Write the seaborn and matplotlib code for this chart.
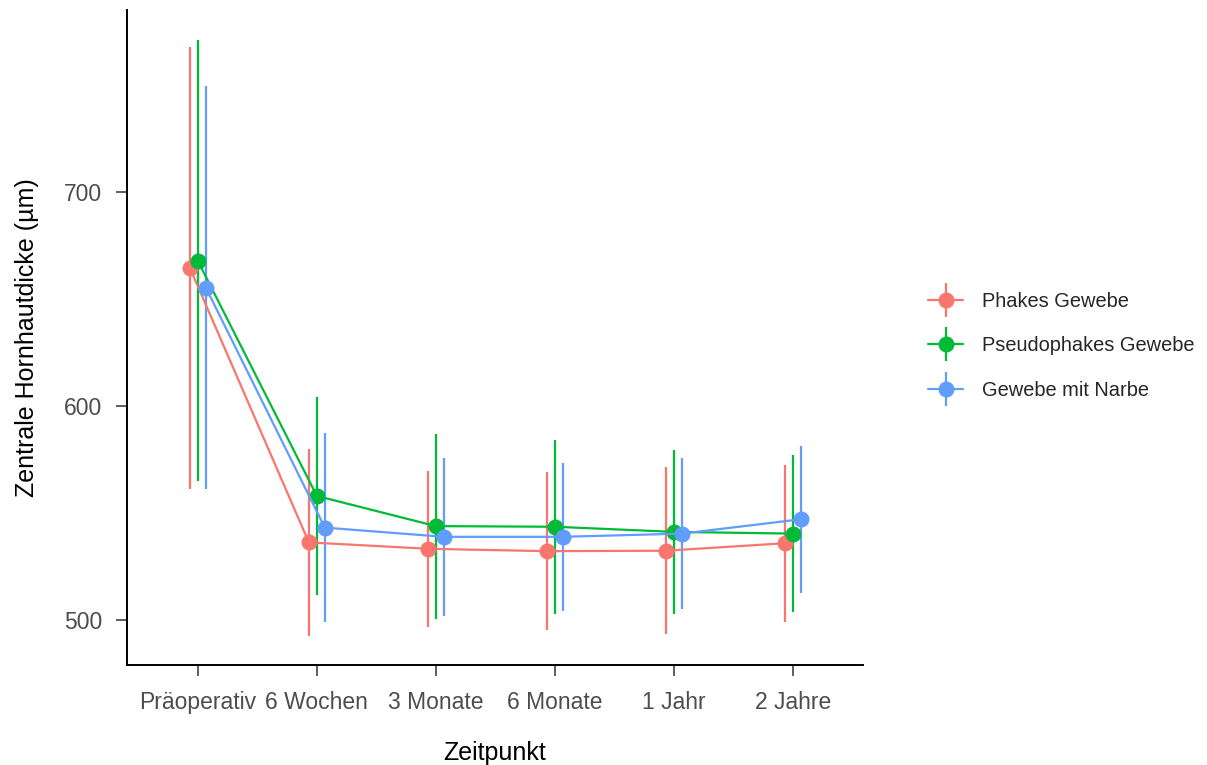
import numpy as np
import pandas as pd
import matplotlib
matplotlib.use("Agg")
import matplotlib.pyplot as plt
from matplotlib.lines import Line2D
from matplotlib.legend_handler import HandlerTuple
import seaborn as sns

timepoints = ["Präoperativ", "6 Wochen", "3 Monate", "6 Monate", "1 Jahr", "2 Jahre"]
groups = ["Phakes Gewebe", "Pseudophakes Gewebe", "Gewebe mit Narbe"]

mean_phakes = [664.5, 536.2, 533.2, 532.1, 532.3, 535.8]
sd_phakes = [103.3, 43.6, 36.5, 37.0, 38.9, 36.6]
mean_pseudo = [667.8, 557.9, 543.8, 543.5, 541.1, 540.3]
sd_pseudo = [103.0, 46.2, 43.2, 40.6, 38.3, 36.8]
mean_narbe = [655.3, 543.1, 538.8, 538.8, 540.3, 547.0]
sd_narbe = [94.2, 44.3, 36.9, 34.5, 35.3, 34.3]

colors = ["#F8766D", "#00BA38", "#619CFF"]
offsets = [-0.067, 0.0, 0.067]

rows = []
for g, m, s, off in zip(groups, [mean_phakes, mean_pseudo, mean_narbe],
                        [sd_phakes, sd_pseudo, sd_narbe], offsets):
    for i, (mv, sv) in enumerate(zip(m, s)):
        rows.append({"group": g, "x": i + off, "mean": mv, "sd": sv})
df = pd.DataFrame(rows)

sns.set_theme(style="white")
plt.rcParams["font.family"] = ["Liberation Sans", "DejaVu Sans"]

fig = plt.figure(figsize=(12.07, 7.65), dpi=100)
ax = fig.add_axes([0.105, 0.131, 0.61, 0.856])

for k, g in enumerate(groups):
    sub = df[df["group"] == g]
    ax.errorbar(sub["x"], sub["mean"], yerr=sub["sd"], fmt="none",
                ecolor=colors[k], elinewidth=1.6, capsize=0, zorder=2 + k)

sns.lineplot(data=df, x="x", y="mean", hue="group", hue_order=groups,
             palette=colors, linewidth=1.6, marker="o", markersize=11.5,
             markeredgewidth=0, ax=ax, legend=False, zorder=5)

ax.set_xlim(-0.597, 5.588)
ax.set_ylim(479, 785)
ax.set_xticks(range(len(timepoints)))
ax.set_xticklabels(timepoints)
ax.set_yticks([500, 600, 700])
ax.tick_params(axis="both", which="both", length=8, width=1.1, color="#333333",
               labelsize=16.5, labelcolor="#4D4D4D", bottom=True, left=True)
ax.tick_params(axis="x", pad=11)
ax.tick_params(axis="y", pad=9.5)
for sp in ["top", "right"]:
    ax.spines[sp].set_visible(False)
for sp in ["left", "bottom"]:
    ax.spines[sp].set_color("black")
    ax.spines[sp].set_linewidth(1.4)

ax.set_xlabel("Zeitpunkt", fontsize=18, labelpad=19, color="black")
ax.set_ylabel("Zentrale Hornhautdicke (µm)", fontsize=18, labelpad=18, color="black")

handles = []
for c in colors:
    h1 = Line2D([], [], color=c, lw=1.6, marker="|", markersize=24, markeredgewidth=1.6)
    h2 = Line2D([], [], color=c, lw=0, marker="o", markersize=11.5, markeredgewidth=0)
    handles.append((h1, h2))
leg = fig.legend(handles, groups, handler_map={tuple: HandlerTuple(ndivide=1)},
                 loc="center left", bbox_to_anchor=(0.754, 0.548), frameon=False,
                 fontsize=14.4, handlelength=1.75, labelspacing=1.27, handletextpad=0.95)

fig.savefig("out.png", dpi=100)
